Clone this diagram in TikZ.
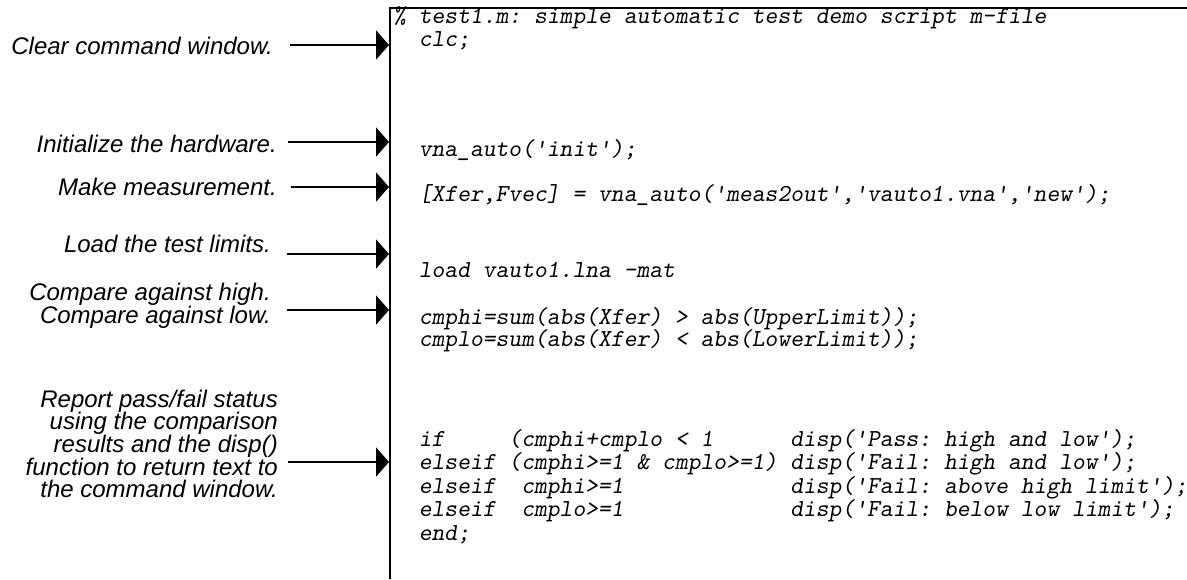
\documentclass[tikz,border=0pt]{standalone}
\usepackage{fontspec}
\setmainfont{Liberation Sans}
\usetikzlibrary{arrows.meta}
\newcommand{\qt}{\textquotesingle}
\begin{document}
\begin{tikzpicture}[x=1pt,y=-1pt,
  lbl/.style={anchor=east, align=right, inner sep=0pt,
    font=\fontsize{24}{22.7}\selectfont\itshape},
  code/.style={anchor=base west, inner sep=0pt,
    font=\fontsize{24.4}{24}\selectfont\ttfamily\slshape},
  pointer/.style={line width=2.5pt, -{Triangle[length=13pt,width=29pt]}},
  frame/.style={line width=2pt}]
\useasboundingbox (0,0) rectangle (1187,579);

% frame of the listing
\coordinate (tr) at (1187,8);
\coordinate (tl) at (390,8);
\coordinate (bl) at (390,579);
\draw[frame] (tr) -- (tl) -- (bl);

% code lines
\node[code] (c0) at (393,23) {\%~test1.m:~simple~automatic~test~demo~script~m-file};
\node[code] (c1) at (393,46) {~~clc;};
\node[code] (c2) at (393,156) {~~vna\_auto(\qt init\qt);};
\node[code] (c3) at (393,201) {~~[Xfer,Fvec]~=~vna\_auto(\qt meas2out\qt,\qt vauto1.vna\qt,\qt new\qt);};
\node[code] (c4) at (393,277) {~~load~vauto1.lna~-mat};
\node[code] (c5) at (393,324) {~~cmphi=sum(abs(Xfer)~>~abs(UpperLimit));};
\node[code] (c6) at (393,346.5) {~~cmplo=sum(abs(Xfer)~<~abs(LowerLimit));};
\node[code] (c7) at (393,446) {~~if~~~~~(cmphi+cmplo~<~1~~~~~~disp(\qt Pass:~high~and~low\qt);};
\node[code] (c8) at (393,469.5) {~~elseif~(cmphi>=1~\&~cmplo>=1)~disp(\qt Fail:~high~and~low\qt);};
\node[code] (c9) at (393,493) {~~elseif~~cmphi>=1~~~~~~~~~~~~~disp(\qt Fail:~above~high~limit\qt);};
\node[code] (c10) at (393,516.5) {~~elseif~~cmplo>=1~~~~~~~~~~~~~disp(\qt Fail:~below~low~limit\qt);};
\node[code] (c11) at (393,540) {~~end;};

% labels
\node[lbl] (l1) at (273,46) {Clear command window.};
\node[lbl] (l2) at (277,144) {Initialize the hardware.};
\node[lbl] (l3) at (277,187) {Make measurement.};
\node[lbl] (l4) at (271,244) {Load the test limits.};
\node[lbl] (l5) at (271,306) {Compare against high.\\Compare against low.};
\node[lbl] (l6) at (278,444) {Report pass/fail status\\using the comparison\\results and the disp()\\function to return text to\\the command window.};

% arrows
\coordinate (s1) at (290,45);  \coordinate (e1) at (389,45);
\coordinate (s2) at (288,142); \coordinate (e2) at (389,142);
\coordinate (s3) at (291,187); \coordinate (e3) at (389,187);
\coordinate (s4) at (287,254); \coordinate (e4) at (389,254);
\coordinate (s5) at (287,310); \coordinate (e5) at (389,310);
\coordinate (s6) at (288,462); \coordinate (e6) at (389,462);
\foreach \i in {1,...,6} \draw[pointer] (s\i) -- (e\i);
\end{tikzpicture}
\end{document}
